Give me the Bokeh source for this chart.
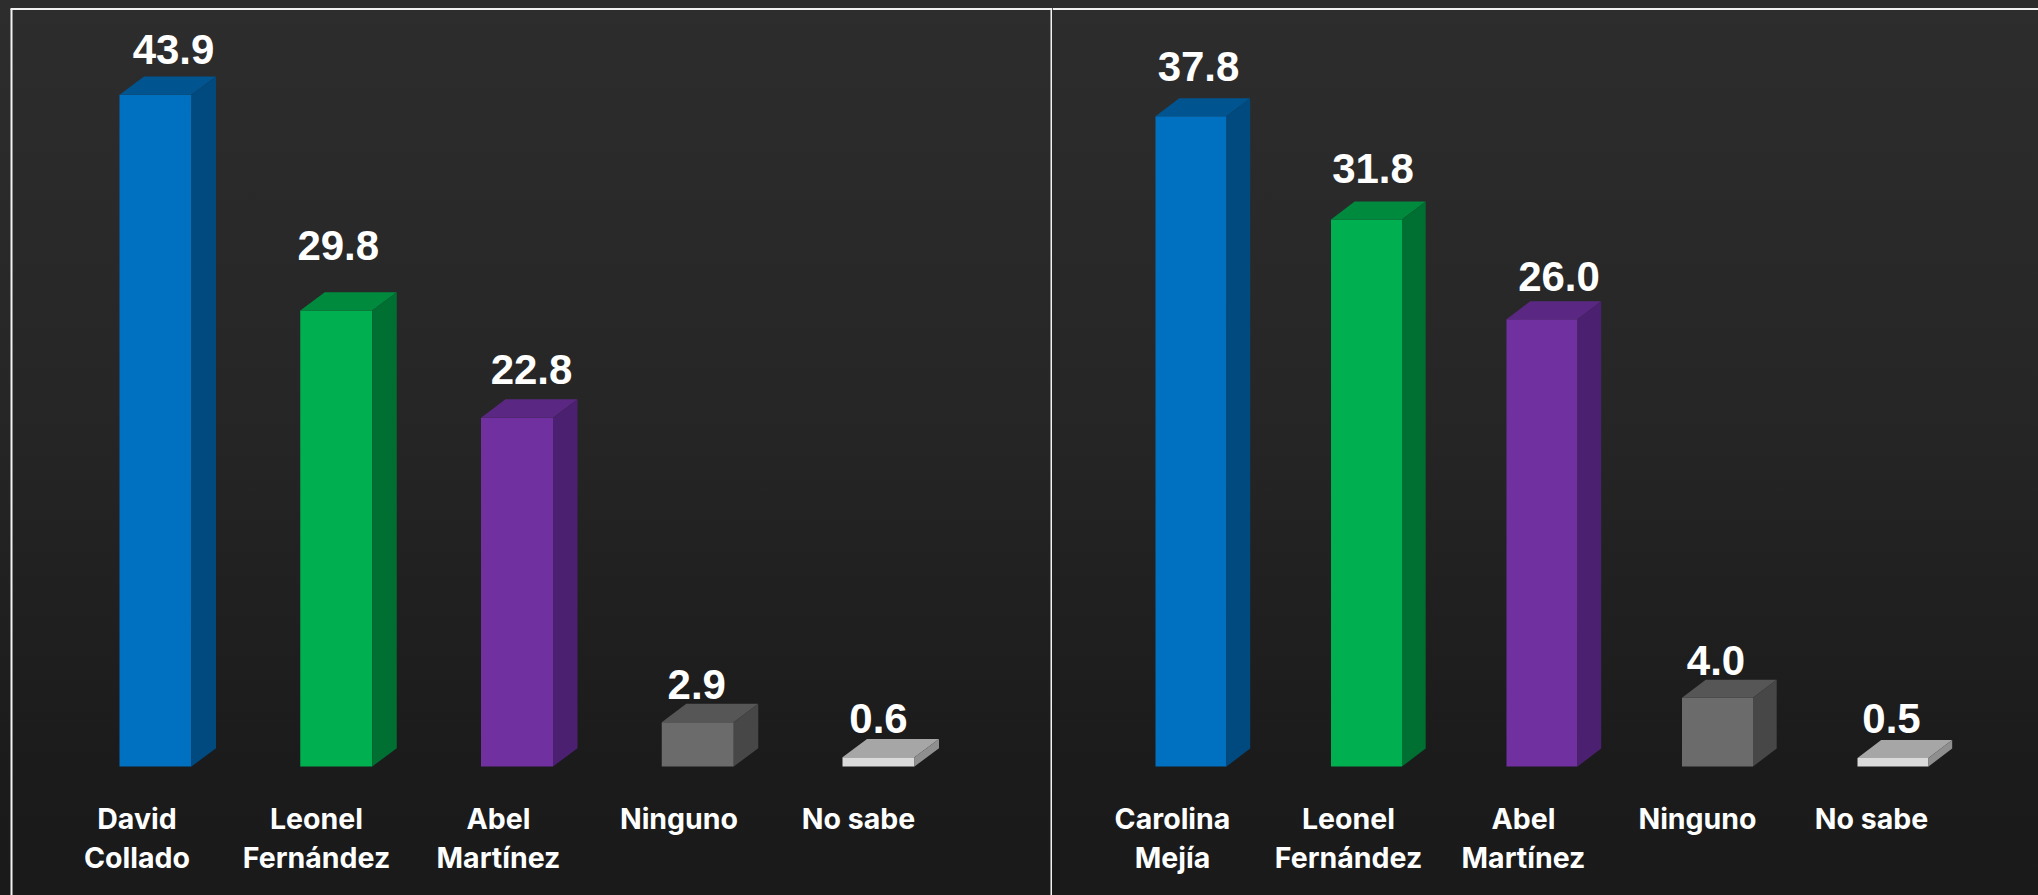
from bokeh.plotting import figure
from bokeh.layouts import row
from bokeh.models import Range1d, ColumnDataSource
from bokeh.core.properties import value
from bokeh.embed import file_html
from bokeh.resources import INLINE

# ---- data ----
cats_left = ["David\nCollado", "Leonel\nFernández", "Abel\nMartínez", "Ninguno", "No sabe"]
vals_left = [43.9, 29.8, 22.8, 2.9, 0.6]
cats_right = ["Carolina\nMejía", "Leonel\nFernández", "Abel\nMartínez", "Ninguno", "No sabe"]
vals_right = [37.8, 31.8, 26.0, 4.0, 0.5]

# ---- colours (front, top, side) ----
FRONT = ["#0070C0", "#00B050", "#7030A0", "#6B6B6B", "#DADADA"]
TOP = ["#00548F", "#008A3E", "#5A2882", "#565656", "#A6A6A6"]
SIDE = ["#004A80", "#006F32", "#4C2070", "#474747", "#8F8F8F"]

# ---- layout ----
PAGE_Y = 0
FIG_H = 895
BASE_Y = 766
CAT_FONT = "Inter"
CAT_SIZE = "28.5px"
VAL_FONT = "Liberation Sans"
VAL_SIZE = "42px"
VAL_LIFT = 14
CAT_BASE = 818


def panel(cats, vals, page_x0, fig_w, first_left, step, bar_w, px_per_unit, dx, dy,
          val_dx, val_dy, cat_centers, frame_left):
    # category i is centred at first_left + bar_w/2 + i*step on the page
    c0 = first_left + bar_w / 2
    x_of = lambda page: (page - c0) / step
    y_of = lambda page: (BASE_Y - page) / px_per_unit
    p = figure(width=fig_w, height=FIG_H, output_backend="svg", toolbar_location=None,
               x_range=Range1d(x_of(page_x0), x_of(page_x0 + fig_w)),
               y_range=Range1d(y_of(PAGE_Y + FIG_H), y_of(PAGE_Y)),
               min_border=0, min_border_left=0, min_border_right=0, min_border_top=0,
               min_border_bottom=0, background_fill_alpha=0, border_fill_alpha=0,
               outline_line_color=None)
    p.axis.visible = False
    p.grid.visible = False

    hw = bar_w / 2 / step
    ddx = dx / step
    ddy = dy / px_per_unit
    xs = list(range(len(vals)))

    p.vbar(x=xs, top=vals, bottom=0, width=2 * hw, fill_color=FRONT, line_color=None)
    p.patches(xs=[[i - hw, i - hw + ddx, i + hw + ddx, i + hw] for i in xs],
              ys=[[v, v + ddy, v + ddy, v] for v in vals],
              fill_color=TOP, line_color=None)
    p.patches(xs=[[i + hw, i + hw + ddx, i + hw + ddx, i + hw] for i in xs],
              ys=[[v, v + ddy, ddy, 0] for v in vals],
              fill_color=SIDE, line_color=None)

    src = ColumnDataSource(dict(x=xs, y=vals, t=[f"{v:.1f}" for v in vals],
                                xo=val_dx, yo=[o - VAL_LIFT for o in val_dy]))
    p.text(x="x", y="y", text="t", x_offset="xo", y_offset="yo", source=src,
           text_align="center", text_baseline="alphabetic", text_color="#FFFFFF",
           text_font=value(VAL_FONT), text_font_style="bold", text_font_size=VAL_SIZE)

    lx, ly, lt = [], [], []
    for c, cx in zip(cats, cat_centers):
        for k, line in enumerate(c.split("\n")):
            lx.append(x_of(cx))
            ly.append(y_of(CAT_BASE + 39 * k))
            lt.append(line)
    p.text(x=lx, y=ly, text=lt, text_align="center", text_baseline="alphabetic",
           text_color="#FFFFFF", text_font=value(CAT_FONT), text_font_style="bold",
           text_font_size=CAT_SIZE)

    # frame lines
    top = y_of(8.5)
    bot = y_of(PAGE_Y + FIG_H)
    p.line([x_of(frame_left), x_of(page_x0 + fig_w)], [top, top], line_color="#F2F2F2", line_width=2)
    if page_x0 < 100:
        p.line([x_of(11), x_of(11)], [bot, top], line_color="#F2F2F2", line_width=2)
        p.line([x_of(1051), x_of(1051)], [bot, top], line_color="#F2F2F2", line_width=2)
    return p


left = panel(cats_left, vals_left, 0, 1052, 119, 180.75, 72, 15.3, 24.5, 18.3,
             [18, 2, 14.5, -1, 0], [-31, -51, -34, -24, -25],
             [136.5, 316, 498, 678.5, 858], 10)
right = panel(cats_right, vals_right, 1052, 986, 1155, 175.5, 71, 17.2, 23.7, 18,
              [7.5, 6.5, 17, -1.5, -1.5], [-35.5, -37, -28.5, -23, -25],
              [1172, 1348, 1523, 1697, 1871], 1052)

layout = row(left, right, spacing=0)
html = file_html(layout, INLINE)
css = ("<style>html,body{overflow:hidden;height:100%;"
       "background:linear-gradient(#2d2d2e 0%,#262627 45%,#1b1b1c 85%,#1a1a1b 100%) fixed;}</style>")
html = html.replace("</head>", css + "</head>", 1)
open("out.html", "w").write(html)
